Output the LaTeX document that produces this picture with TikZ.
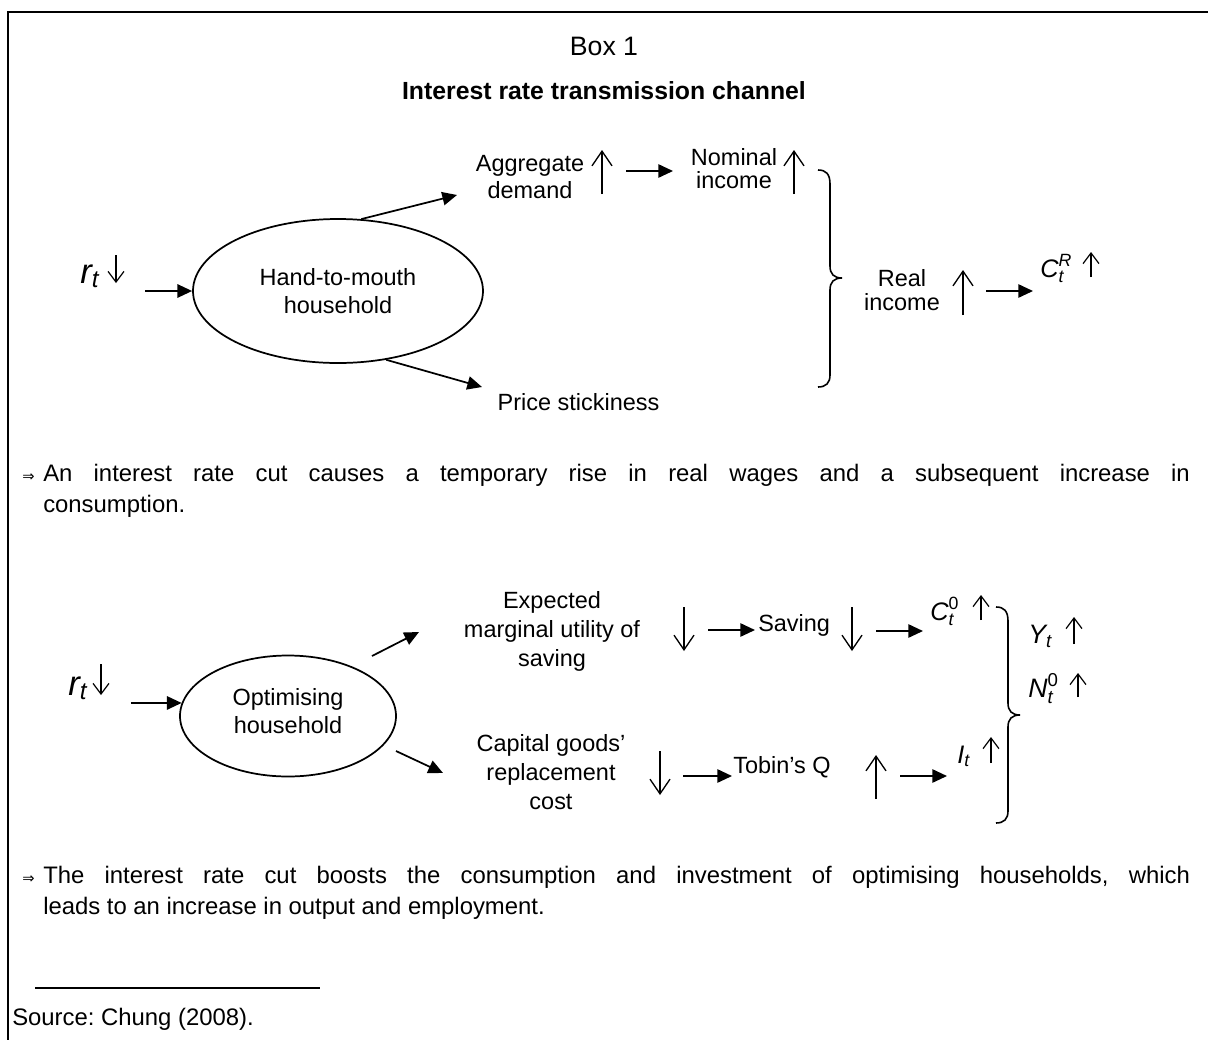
\documentclass[tikz,border=0pt]{standalone}
\usepackage{fontspec}
\usepackage{amsmath}
\setmainfont{Liberation Sans}
\newfontfamily\djv{DejaVu Sans}
\usetikzlibrary{arrows.meta,shapes.geometric}
\newcommand\iv[1]{\text{\itshape #1}}
\frenchspacing
\begin{document}
\begin{tikzpicture}[x=0.75pt,y=-0.75pt,
  lbl/.style={inner sep=0pt, font=\fontsize{17.6}{21}\selectfont, align=center},
  body/.style={inner sep=0pt, font=\fontsize{17.9}{23.25}\selectfont},
  mth/.style={inner sep=0pt, font=\fontsize{19}{19}\selectfont, anchor=base west},
  big/.style={inner sep=0pt, font=\fontsize{26}{26}\selectfont, anchor=base west},
  ell/.style={ellipse, draw, line width=1.3pt, inner sep=0pt},
  conn/.style={line width=1.3pt, -{Triangle[length=11pt,width=10pt]}},
  tall/.style={line width=1pt, -{Straight Barb[length=11pt,width=15pt,line width=1pt]}},
  small/.style={line width=0.9pt, -{Straight Barb[length=8pt,width=12pt,line width=0.9pt]}},
  impl/.style={inner sep=0pt, font=\djv\fontsize{11}{11}\selectfont, anchor=base west}]
\useasboundingbox (0,0) rectangle (1208,1040);
% frame
\draw[line width=2.2pt] (8,1040) -- (8,12) -- (1208,12);
% titles
\node[lbl, font=\fontsize{20}{21}\selectfont] (box) at (604,46) {Box 1};
\node[lbl, font=\fontsize{18.6}{21.5}\selectfont\bfseries] (title) at (604,91) {Interest rate transmission channel};

% ---------- top diagram ----------
\node[big] (rt1) at (80,283) {$\iv{r}_{\iv{t}}$};
\draw[small] (116,255) -- (116,283);
\node[ell, lbl, minimum width=217.5pt, minimum height=108pt] (hh) at (338,291) {Hand-to-mouth\\household};
\coordinate (in1) at (145,291);
\draw[conn] (in1) -- (hh.west);

\node[lbl, font=\fontsize{17.6}{20.25}\selectfont] (agg) at (530,177) {Aggregate\\demand};
\draw[tall] (602,194) -- (602,150);
\coordinate (aggin) at (457,195);
\draw[conn] (hh.72) -- (aggin);

\node[lbl, font=\fontsize{17.6}{17.25}\selectfont] (nom) at (734,169) {Nominal\\income};
\draw[tall] (794,194) -- (794,150);
\coordinate (aggout) at (626,171);
\coordinate (nomin) at (673,171);
\draw[conn] (aggout) -- (nomin);

\node[lbl, anchor=base] (price) at (578.5,410) {Price stickiness};
\coordinate (prin) at (482,387);
\draw[conn] (hh.-55) -- (prin);

\draw[line width=1.2pt] (818,170) .. controls (826,170) and (830,174) .. (830,184) -- (830,266)
  .. controls (830,274) and (834,278) .. (842,278)
  .. controls (834,278) and (830,282) .. (830,290) -- (830,375)
  .. controls (830,383) and (826,387) .. (818,387);

\node[lbl, font=\fontsize{17.6}{18}\selectfont] (real) at (902,290) {Real\\income};
\draw[tall] (963,315) -- (963,270);
\coordinate (realout) at (986,291);
\coordinate (crin) at (1033,291);
\draw[conn] (realout) -- (crin);
\node[mth] (cr) at (1040,277) {$\iv{C}_{\iv{t}}^{\iv{R}}$};
\draw[small] (1091,277) -- (1091,252);

% paragraph 1
\node[impl] (imp1) at (22,481) {⇒};
\node[body, anchor=base west, text width=860pt, align=justify] (p1) at (43,481) {An interest rate cut causes a temporary rise in real wages and a subsequent increase in\linebreak consumption.};

% ---------- bottom diagram ----------
\node[big] (rt2) at (68,695) {$\iv{r}_{\iv{t}}$};
\draw[small] (101,664) -- (101,695);
\node[ell, lbl, minimum width=162pt, minimum height=90.75pt, text depth=8pt] (opt) at (288,716) {Optimising\\household};
\coordinate (in2) at (131,703);
\draw[conn] (in2) -- (opt.173);

\node[lbl, font=\fontsize{17.6}{22}\selectfont] (emu) at (552,631.5) {Expected\\marginal utility of\\saving};
\coordinate (o1s) at (372,656);
\coordinate (o1e) at (419,632);
\draw[conn] (o1s) -- (o1e);
\draw[tall] (684,607) -- (684,651);
\coordinate (emuout) at (708,630);
\coordinate (savin) at (755,630);
\draw[conn] (emuout) -- (savin);
\node[lbl, anchor=base west] (sav) at (758,631) {Saving};
\draw[tall] (852,607) -- (852,651);
\coordinate (savout) at (876,631);
\coordinate (c0in) at (923,631);
\draw[conn] (savout) -- (c0in);
\node[mth] (c0) at (930,620) {$\iv{C}_{\iv{t}}^{\text{0}}$};
\draw[small] (981,620) -- (981,595);

\node[lbl, font=\fontsize{17.6}{21.75}\selectfont] (cgrc) at (551,772.5) {Capital goods’\\replacement\\cost};
\coordinate (o2s) at (396,751);
\coordinate (o2e) at (443,773);
\draw[conn] (o2s) -- (o2e);
\draw[tall] (660,751) -- (660,795);
\coordinate (cgout) at (683,776);
\coordinate (tobin) at (732,776);
\draw[conn] (cgout) -- (tobin);
\node[lbl, anchor=base west] (tq) at (733,773) {Tobin’s Q};
\draw[tall] (876,799) -- (876,755);
\coordinate (tqout) at (900,776);
\coordinate (itin) at (947,776);
\draw[conn] (tqout) -- (itin);
\node[mth] (it) at (957,763) {$\iv{I}_{\iv{t}}$};
\draw[small] (991,763) -- (991,737);

\draw[line width=1.2pt] (996,607) .. controls (1004,607) and (1008,611) .. (1008,621) -- (1008,703)
  .. controls (1008,711) and (1012,715) .. (1020,715)
  .. controls (1012,715) and (1008,719) .. (1008,727) -- (1008,811)
  .. controls (1008,819) and (1004,823) .. (996,823);

\node[mth, font=\fontsize{20}{20}\selectfont] (yt) at (1028,643) {$\iv{Y}_{\iv{t}}$};
\draw[small] (1074,644) -- (1074,617);
\node[mth, font=\fontsize{20}{20}\selectfont] (nt) at (1028,697) {$\iv{N}_{\iv{t}}^{\text{0}}$};
\draw[small] (1078,697) -- (1078,673);

% paragraph 2
\node[impl] (imp2) at (22,883) {⇒};
\node[body, anchor=base west, text width=860pt, align=justify] (p2) at (43,883) {The interest rate cut boosts the consumption and investment of optimising households, which\linebreak leads to an increase in output and employment.};

% footnote
\draw[line width=0.8pt] (35,988) -- (320,988);
\node[body, anchor=base west] (src) at (12,1025) {Source: Chung (2008).};
\end{tikzpicture}
\end{document}
